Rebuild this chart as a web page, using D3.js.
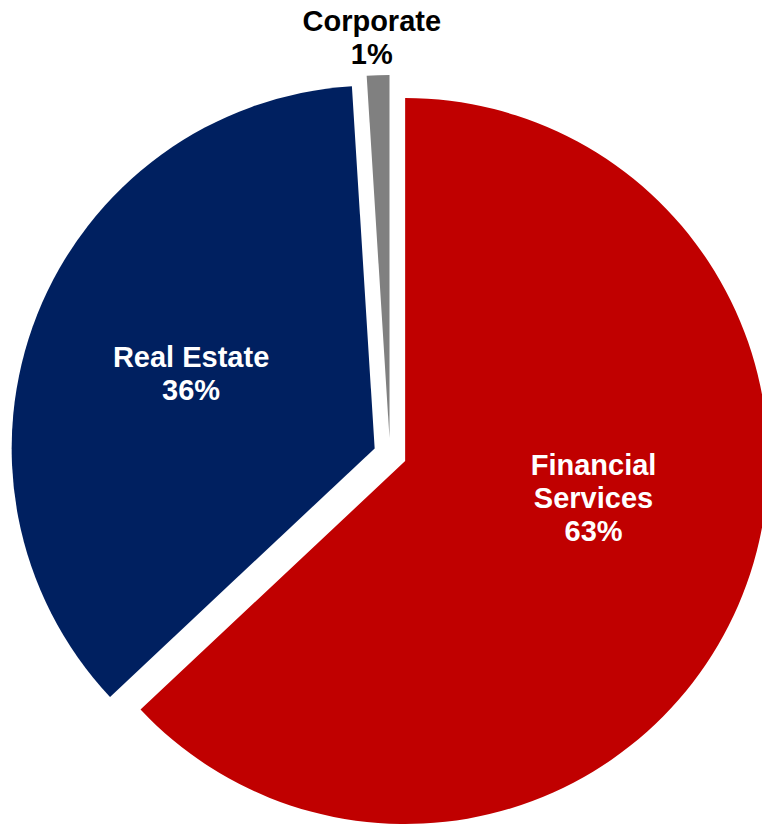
<!DOCTYPE html>
<html>
<head>
<meta charset="utf-8">
<script src="https://cdn.jsdelivr.net/npm/d3@7"></script>
<style>
  html, body { margin: 0; padding: 0; background: #ffffff; }
  svg { display: block; }
</style>
</head>
<body>
<svg id="chart" width="762" height="825"></svg>
<script>
// Segment share of the total, in drawing order (clockwise from 12 o'clock)
const segments = ["Financial Services", "Real Estate", "Corporate"];
const labelLines = [["Financial", "Services"], ["Real Estate"], ["Corporate"]];
const shares = [63, 36, 1];

// Layout and styling
const width = 762, height = 825;
const center = { x: 390, y: 454.5 };
const radius = 363;
const explode = 16.5;              // every slice is pulled out along its bisector
const colors = ["#C00000", "#002060", "#808080"];
const textColors = ["#ffffff", "#ffffff", "#000000"];
// label anchor in polar form around the pie centre: angle (deg, clockwise from top), distance
const labelPolar = [[101.9, 208], [292.3, 215], [357.5, 418]];
const fontSize = 29, lineHeight = 33;

const svg = d3.select("#chart");
const g = svg.append("g").attr("transform", `translate(${center.x},${center.y})`);

const pie = d3.pie().sort(null).value(d => d.value).startAngle(0).endAngle(2 * Math.PI);
const arcs = pie(shares.map((v, i) => ({ value: v, i })));
const arc = d3.arc().innerRadius(0).outerRadius(radius);

g.selectAll("path.slice")
  .data(arcs)
  .join("path")
  .attr("class", "slice")
  .attr("fill", d => colors[d.data.i])
  .attr("transform", d => {
    const mid = (d.startAngle + d.endAngle) / 2;
    return `translate(${explode * Math.sin(mid)},${-explode * Math.cos(mid)})`;
  })
  .attr("d", arc);

// Category name plus rounded share as a centred multi-line label
const labels = g.selectAll("text.label")
  .data(arcs)
  .join("text")
  .attr("class", "label")
  .attr("text-anchor", "middle")
  .attr("font-family", "Arial, 'Liberation Sans', Helvetica, sans-serif")
  .attr("font-weight", "bold")
  .attr("font-size", fontSize)
  .attr("fill", d => textColors[d.data.i])
  .each(function (d) {
    const i = d.data.i;
    const [angDeg, dist] = labelPolar[i];
    const a = angDeg * Math.PI / 180;
    const x = dist * Math.sin(a), y = -dist * Math.cos(a);
    const lines = labelLines[i].concat([Math.round(d.data.value) + "%"]);
    const firstBaseline = y - (lines.length - 1) * lineHeight / 2 + fontSize * 0.716 / 2;
    d3.select(this).selectAll("tspan")
      .data(lines)
      .join("tspan")
      .attr("x", x)
      .attr("y", (t, k) => firstBaseline + k * lineHeight)
      .text(t => t);
  });
</script>
</body>
</html>
